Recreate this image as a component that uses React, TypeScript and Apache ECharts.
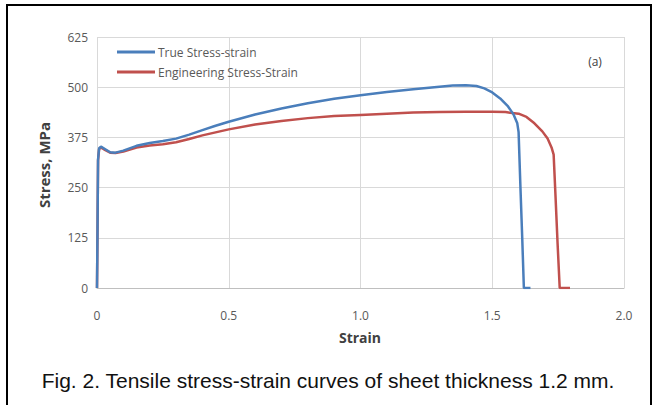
import React, { useEffect, useRef } from "react";
import * as echarts from "echarts";

const trueStrain = [0, 0.002, 0.004, 0.008, 0.015, 0.03, 0.05, 0.07, 0.1, 0.15, 0.2, 0.25, 0.3, 0.35, 0.4, 0.45, 0.5, 0.6, 0.7, 0.8, 0.9, 1.0, 1.1, 1.2, 1.3, 1.35, 1.4, 1.44, 1.47, 1.5, 1.53, 1.56, 1.58, 1.595, 1.6, 1.607, 1.614, 1.62, 1.645];
const trueStress = [0, 150, 320, 348, 352, 346, 338, 337, 342, 354, 361, 366, 372, 382, 393, 404, 414, 432, 447, 460, 471, 480, 488, 495, 501, 504, 505, 503, 497, 487, 472, 452, 433, 410, 388, 250, 120, 0, 0];

const engStrain = [0, 0.002, 0.004, 0.008, 0.015, 0.03, 0.05, 0.07, 0.1, 0.15, 0.2, 0.25, 0.3, 0.35, 0.4, 0.5, 0.6, 0.7, 0.8, 0.9, 1.0, 1.1, 1.2, 1.3, 1.4, 1.5, 1.55, 1.6, 1.63, 1.66, 1.69, 1.71, 1.725, 1.733, 1.74, 1.748, 1.756, 1.795];
const engStress = [0, 150, 318, 346, 350, 344, 337, 336, 340, 350, 355, 358, 363, 371, 380, 395, 407, 416, 423, 428, 431, 434, 437, 438, 439, 439, 438, 434, 426, 410, 390, 372, 350, 332, 230, 110, 0, 0];

const seriesNames = ["True Stress-strain", "Engineering Stress-Strain"];
const xTickLabels: Record<string, string> = { "0": "0", "0.5": "0.5", "1": "1.0", "1.5": "1.5", "2": "2.0" };
const xAxisTitle = "Strain";
const yAxisTitle = "Stress, MPa";
const panelLabel = "(a)";
const caption = "Fig. 2. Tensile stress-strain curves of sheet thickness 1.2 mm.";

const tickFont = "Open Sans";
const blue = "#4A7EBB";
const red = "#C0504D";

function legendFor(name: string, top: number) {
  return {
    orient: "vertical",
    left: 117,
    top,
    padding: 0,
    icon: "rect",
    itemWidth: 38,
    itemHeight: 3,
    itemGap: 0,
    textStyle: { fontFamily: tickFont, fontSize: 12, color: "#595959", padding: [0, 0, 0, -2] },
    data: [name],
  };
}

export default function App() {
  const ref = useRef<HTMLDivElement>(null);
  useEffect(() => {
    if (!ref.current) return;
    const chart = echarts.init(ref.current, null, { renderer: "svg" });
    const trueData = trueStrain.map((s, i) => [s, trueStress[i]]);
    const engData = engStrain.map((s, i) => [s, engStress[i]]);
    chart.setOption({
      animation: false,
      backgroundColor: "#ffffff",
      grid: { left: 97, right: 31, top: 37, bottom: 117, containLabel: false },
      legend: [legendFor(seriesNames[0], 46), legendFor(seriesNames[1], 66)],
      xAxis: {
        type: "value",
        min: 0,
        max: 2,
        interval: 0.5,
        axisLine: { show: true, lineStyle: { color: "#bfbfbf", width: 1 } },
        axisTick: { show: false },
        splitLine: { show: true, lineStyle: { color: "#d9d9d9", width: 1 } },
        axisLabel: {
          margin: 21,
          fontFamily: tickFont,
          fontSize: 12,
          color: "#595959",
          formatter: (v: number) => xTickLabels[String(v)] ?? String(v),
        },
      },
      yAxis: {
        type: "value",
        min: 0,
        max: 625,
        interval: 125,
        axisLine: { show: false },
        axisTick: { show: false },
        splitLine: { show: true, lineStyle: { color: "#d9d9d9", width: 1 } },
        axisLabel: { margin: 9, fontFamily: tickFont, fontSize: 12, color: "#595959" },
      },
      series: [
        {
          name: seriesNames[0],
          type: "line",
          data: trueData,
          symbol: "none",
          lineStyle: { color: blue, width: 2.5 },
          itemStyle: { color: blue },
          z: 3,
        },
        {
          name: seriesNames[1],
          type: "line",
          data: engData,
          symbol: "none",
          lineStyle: { color: red, width: 2.5 },
          itemStyle: { color: red },
          z: 2,
        },
      ],
      graphic: [
        {
          type: "polyline",
          shape: { points: [[7, 405], [7, 5], [651, 5], [651, 405]] },
          style: { stroke: "#000000", lineWidth: 2, fill: "none" },
          silent: true,
        },
        {
          type: "text",
          x: 360,
          y: 337,
          style: { text: xAxisTitle, font: `bold 14px "${tickFont}"`, fill: "#404040", align: "center", verticalAlign: "middle" },
        },
        {
          type: "text",
          x: 44,
          y: 165,
          rotation: Math.PI / 2,
          style: { text: yAxisTitle, font: `bold 15px "${tickFont}"`, fill: "#404040", align: "center", verticalAlign: "middle" },
        },
        {
          type: "text",
          x: 595,
          y: 61,
          style: { text: panelLabel, font: `12px "${tickFont}"`, fill: "#404040", align: "center", verticalAlign: "middle" },
        },
        {
          type: "text",
          x: 328,
          y: 380,
          style: { text: caption, font: `21px "Liberation Sans"`, fill: "#111111", align: "center", verticalAlign: "middle" },
        },
      ],
    });
    return () => chart.dispose();
  }, []);
  return <div ref={ref} style={{ position: "fixed", left: 0, top: 0, width: 655, height: 405 }} />;
}
